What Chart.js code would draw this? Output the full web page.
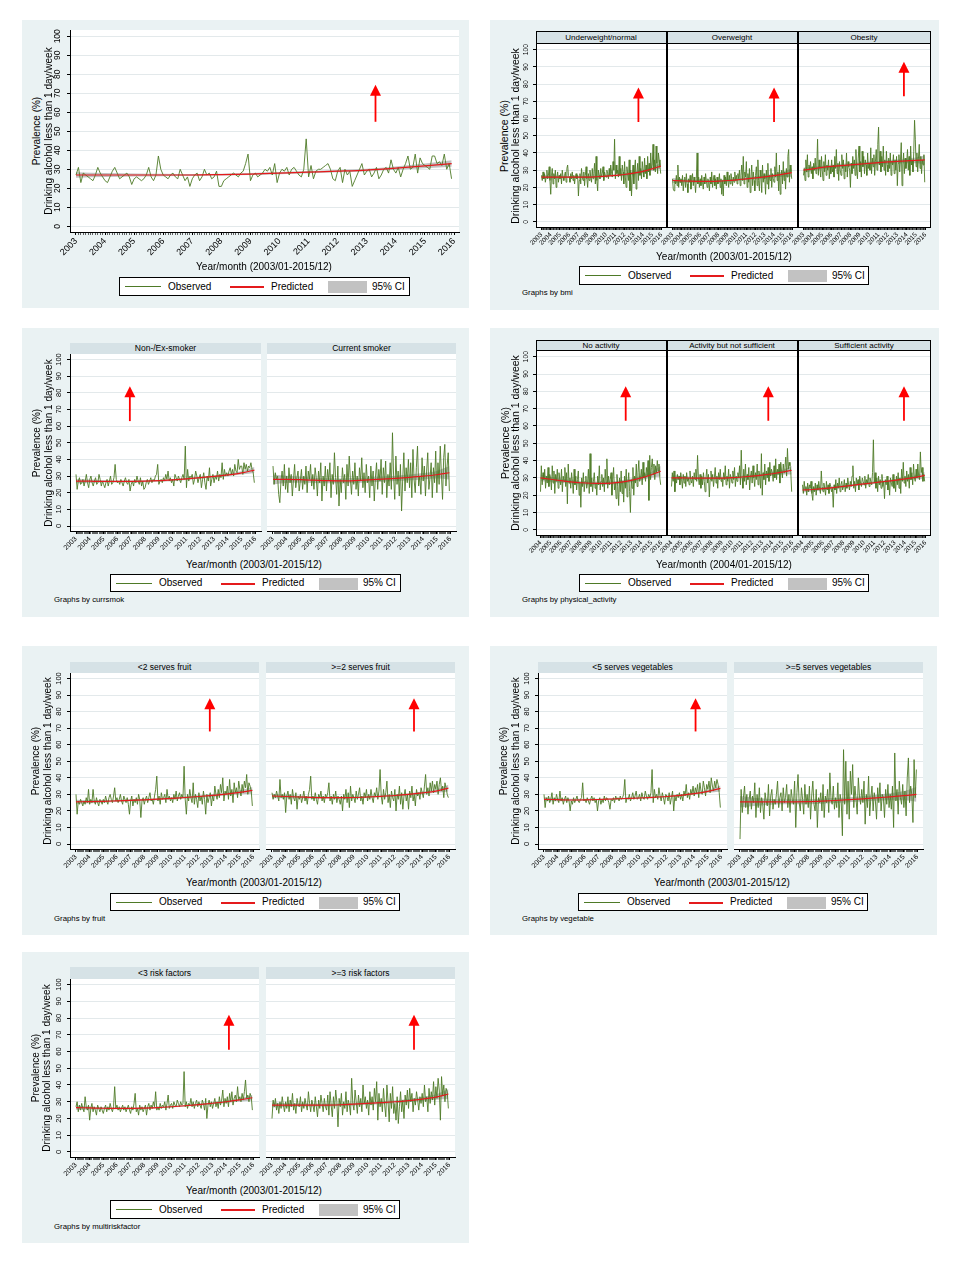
<!DOCTYPE html>
<html>
<head>
<meta charset="utf-8">
<title>Drinking alcohol less than 1 day/week</title>
<script src="https://cdn.jsdelivr.net/npm/chart.js@4.4.1/dist/chart.umd.min.js"></script>
<style>
  html, body { margin: 0; padding: 0; background: #fff; }
  #page { position: relative; width: 963px; height: 1271px; overflow: hidden;
          font-family: "Liberation Sans", Arial, sans-serif; color: #000; }
  .bg { position: absolute; background: #eaf2f3; }
  .cv { position: absolute; z-index: 1; }
  .txt { position: absolute; white-space: nowrap; line-height: 1; z-index: 2; }
  .strip { position: absolute; background: #d6e2e6; text-align: center; white-space: nowrap; z-index: 3; }
  .frame { position: absolute; border: 1px solid #000; box-sizing: border-box; z-index: 4; pointer-events: none; }
  .legend { position: absolute; background: #fff; border: 1px solid #000; box-sizing: border-box; z-index: 3; }
</style>
</head>
<body>
<div id="page"></div>
<script>
// ---- axis ticks ----
const yTicks = [0, 10, 20, 30, 40, 50, 60, 70, 80, 90, 100];
const years2003 = [2003, 2004, 2005, 2006, 2007, 2008, 2009, 2010, 2011, 2012, 2013, 2014, 2015, 2016];
const years2004 = [2004, 2005, 2006, 2007, 2008, 2009, 2010, 2011, 2012, 2013, 2014, 2015, 2016];
// x positions of the predicted / CI values (start of each year, last month)
const knots2003 = [2003, 2004, 2005, 2006, 2007, 2008, 2009, 2010, 2011, 2012, 2013, 2014, 2015, 2015.92];
const knots2004 = [2004, 2005, 2006, 2007, 2008, 2009, 2010, 2011, 2012, 2013, 2014, 2015, 2015.92];

// ---- all adults, monthly 2003/01-2015/12 ----
const obsAll = [
  27,31,23,28,27,26,25,24,27,31,28,26,
  24,23,26,29,31,28,25,26,27,28,26,22,
  25,26,25,24,25,27,31,26,24,27,37,30,
  27,26,25,27,28,26,25,30,27,24,26,21,
  25,27,28,24,26,30,27,28,25,26,29,21,
  21,24,25,26,27,28,27,26,28,29,33,38,
  24,27,28,26,27,28,30,29,31,27,33,23,
  28,30,29,31,27,30,31,29,27,26,30,46,
  26,32,25,29,30,30,31,32,33,30,25,24,
  29,31,23,30,27,29,21,24,27,30,33,27,
  29,30,26,28,31,25,27,30,31,28,35,30,
  28,31,26,30,33,37,30,31,38,28,36,33,
  32,31,30,37,37,33,34,32,38,30,33,25];
const predAll = [27,27,27,27,27,27.2,27.5,28,28.5,29,29.6,30.6,31.8,33];
const loAll   = [25.5,25.9,26.2,26.4,26.5,26.7,27,27.4,27.9,28.4,28.9,29.7,30.6,31.3];
const hiAll   = [28.5,28.1,27.8,27.6,27.5,27.7,28,28.6,29.1,29.6,30.3,31.5,33,34.7];
const arrowAll = [2013.3, 55, 74.5];

// ---- by bmi ----
const obsBmiNormal = [
  27,24,29,25,28,23,26,30,25,27,32,24,
  16,27,31,22,28,25,30,20,26,29,23,27,
  25,28,22,30,26,24,27,29,23,31,33,27,
  26,23,28,25,29,24,27,22,26,28,25,27,
  15,24,28,22,31,26,24,29,21,27,32,25,
  20,28,24,30,26,23,31,25,28,34,22,38,
  24,18,30,27,25,31,26,28,32,24,29,27,
  26,30,28,25,31,27,33,29,26,35,30,48,
  25,33,28,30,26,38,27,31,24,33,29,22,
  35,26,20,32,28,24,36,18,30,15,26,33,
  22,30,36,19,28,34,24,38,27,31,25,35,
  30,26,37,28,33,25,38,29,34,27,40,31,
  33,45,30,36,29,44,34,28,40,36,32,28];
const predBmiNormal = [26,26,26,26,26,26,26.2,26.5,27,27.5,28.3,29.3,30.8,32.4];
const loBmiNormal   = [24.8,25.1,25.3,25.4,25.4,25.4,25.6,25.9,26.3,26.8,27.5,28.4,29.6,30.8];
const hiBmiNormal   = [27.2,26.9,26.7,26.6,26.6,26.6,26.8,27.1,27.7,28.2,29.1,30.2,32,34];
const arrowBmiNormal = [2013.5, 58, 78];

const obsBmiOver = [
  25,19,18,24,22,27,21,33,20,26,23,25,
  21,27,18,24,26,20,28,22,17,25,23,27,
  19,24,28,21,26,23,17,25,40,22,26,20,
  25,21,27,23,19,26,22,28,24,20,25,23,
  18,26,22,29,20,24,27,21,25,19,26,22,
  23,28,20,25,16,24,15,27,22,26,21,29,
  24,20,27,22,28,25,21,26,23,29,24,27,
  22,28,25,30,21,27,33,24,38,22,29,26,
  35,20,28,23,31,17,26,33,21,29,24,18,
  27,32,21,36,24,18,30,26,17,33,23,28,
  25,16,30,22,34,19,27,24,31,20,28,25,
  23,32,26,40,24,29,18,33,16,27,30,22,
  35,24,29,19,31,26,38,42,23,33,29,25];
const predBmiOver = [24,23.8,23.6,23.5,23.5,23.6,24,24.4,25,25.5,26.1,26.8,27.7,28.6];
const loBmiOver   = [22.5,22.7,22.8,22.8,22.8,22.9,23.3,23.7,24.3,24.7,25.2,25.7,26.2,26.1];
const hiBmiOver   = [25.5,24.9,24.4,24.2,24.2,24.3,24.7,25.1,25.7,26.3,27,27.9,29.2,31.1];
const arrowBmiOver = [2014.0, 58, 78];

const obsBmiObese = [
  27,31,24,36,29,39,26,33,30,35,28,32,
  25,34,30,37,28,33,48,27,36,31,26,38,
  30,24,35,29,39,27,33,30,36,25,32,28,
  36,29,33,26,38,31,42,28,34,24,35,30,
  27,39,31,36,25,33,29,40,26,35,32,30,
  20,34,28,38,31,36,27,42,30,25,37,44,
  29,35,26,41,32,38,28,36,33,27,40,31,
  34,30,43,28,37,32,39,27,35,42,30,45,
  55,33,41,29,38,32,44,30,36,27,41,33,
  29,37,31,40,27,35,33,39,28,36,30,38,
  21,34,39,29,36,46,21,33,40,28,37,31,
  35,42,30,38,27,44,33,36,29,41,59,48,
  32,40,29,37,45,31,38,28,36,33,39,23];
const predBmiObese = [30,30.8,31.6,32.2,32.7,33.1,33.5,34,34.4,34.8,35.1,35.4,35.7,36];
const loBmiObese   = [28.5,29.6,30.6,31.3,31.8,32.2,32.6,33.1,33.5,33.8,34,34.1,34.1,33.5];
const hiBmiObese   = [31.5,32,32.6,33.1,33.6,34,34.4,34.9,35.3,35.8,36.2,36.7,37.3,38.5];
const arrowBmiObese = [2013.7, 73, 93];

// ---- by current smoking ----
const obsNonSmoker = [
  31,22,27,29,25,26,28,24,27,31,26,23,
  28,30,26,24,27,29,25,26,31,28,24,27,
  25,23,26,28,24,27,30,25,26,29,37,28,
  26,27,25,28,26,24,27,29,26,25,28,21,
  25,27,24,28,26,30,27,25,29,24,27,22,
  23,26,28,25,27,29,26,28,27,30,31,37,
  25,27,28,26,29,27,31,28,33,27,29,26,
  28,24,31,29,27,30,28,26,29,31,28,48,
  23,34,27,30,29,31,25,28,33,30,26,29,
  31,23,28,32,26,22,30,27,35,24,28,31,
  26,30,28,33,27,31,29,38,28,34,30,32,
  30,33,35,31,34,30,37,33,32,40,34,36,
  36,31,38,34,37,33,36,35,38,34,32,26];
const predNonSmoker = [27,26.9,26.8,26.8,26.8,26.9,27.2,27.7,28.3,29,29.8,30.7,31.9,33.6];
const loNonSmoker   = [25.7,25.9,26.1,26.2,26.2,26.3,26.6,27.1,27.7,28.4,29.1,29.9,30.9,31.8];
const hiNonSmoker   = [28.3,27.9,27.5,27.4,27.4,27.5,27.8,28.3,28.9,29.6,30.5,31.5,32.9,35.4];
const arrowNonSmoker = [2006.9, 63, 84];

const obsSmoker = [
  36,25,32,28,30,19,14,27,33,24,37,22,
  30,20,35,26,31,18,28,37,23,29,33,21,
  27,34,22,30,25,36,20,33,28,37,24,31,
  22,35,29,18,33,26,38,15,30,24,36,21,
  34,27,38,17,31,25,44,29,19,36,12,28,
  20,35,26,31,16,37,24,42,28,19,33,25,
  38,22,30,18,35,27,41,23,32,20,37,26,
  30,17,36,24,33,15,29,38,22,34,27,40,
  19,35,26,39,17,31,24,38,22,56,30,16,
  42,25,33,18,37,9,28,44,21,35,26,40,
  23,38,17,46,28,20,35,48,24,30,19,41,
  27,36,18,33,44,22,29,38,17,35,26,45,
  20,38,25,48,31,16,41,49,24,36,44,21];
const predSmoker = [28,28,27.8,27.5,27.2,27.1,27.3,27.7,28.1,28.6,29.2,29.9,30.8,32];
const loSmoker   = [25,25.8,26,25.9,25.7,25.6,25.8,26.2,26.6,27,27.5,28,28.5,28];
const hiSmoker   = [31,30.2,29.6,29.1,28.7,28.6,28.8,29.2,29.6,30.2,30.9,31.8,33.1,36];

// ---- by physical activity, monthly 2004/01-2015/12 ----
const obsNoAct = [
  22,37,26,33,29,35,24,31,27,36,25,32,
  30,23,37,27,34,21,32,28,35,24,33,29,
  26,35,22,31,28,36,25,33,15,38,27,30,
  24,33,28,21,35,26,31,23,29,34,20,27,
  13,30,25,33,22,28,31,24,27,35,21,44,
  25,30,22,28,33,24,27,20,31,26,37,23,
  28,32,25,30,22,35,27,41,24,31,26,29,
  33,20,29,36,23,27,18,32,25,14,30,22,
  34,21,28,16,31,24,35,19,27,33,22,10,
  29,24,36,20,31,27,38,25,33,40,28,30,
  35,26,39,30,33,28,36,31,40,17,43,29,
  36,41,32,38,29,37,33,40,34,38,30,26];
const predNoAct = [30,29.2,28.4,27.7,27.2,26.9,26.8,27,27.6,28.6,30,31.8,33.8];
const loNoAct   = [28,27.7,27.2,26.7,26.3,26,25.9,26.1,26.6,27.5,28.7,30.2,30.8];
const hiNoAct   = [32,30.7,29.6,28.7,28.1,27.8,27.7,27.9,28.6,29.7,31.3,33.4,36.8];
const arrowNoAct = [2012.45, 63, 83];

const obsLowAct = [
  25,33,28,34,22,30,27,32,29,31,26,33,
  29,24,32,27,31,25,33,28,30,26,34,29,
  27,31,25,33,29,35,28,43,30,26,32,24,
  31,26,33,28,22,30,35,27,32,19,29,34,
  28,32,25,30,36,27,31,24,33,29,35,28,
  30,25,33,29,37,26,31,28,35,24,32,30,
  27,34,29,36,25,31,28,33,30,37,26,46,
  30,24,35,28,38,26,32,29,36,23,31,34,
  27,37,30,25,33,29,38,26,34,31,24,44,
  20,33,29,38,26,34,30,36,28,39,31,35,
  33,28,37,30,41,29,35,32,38,27,39,34,
  30,38,33,36,42,31,47,35,39,37,33,22];
const predLowAct = [30,30,29.9,29.8,29.8,29.9,30.1,30.5,31,31.6,32.4,33.3,34.4];
const loLowAct   = [28.5,28.9,29.1,29.1,29.1,29.2,29.4,29.8,30.3,30.8,31.4,32,31.9];
const hiLowAct   = [31.5,31.1,30.7,30.5,30.5,30.6,30.8,31.2,31.7,32.4,33.4,34.6,36.9];
const arrowLowAct = [2013.6, 63, 83];

const obsSufAct = [
  26,21,28,23,25,20,27,22,26,24,28,21,
  17,25,22,27,20,26,23,28,24,21,34,25,
  22,27,24,20,28,23,26,21,27,25,22,24,
  13,26,23,29,21,27,24,30,22,26,28,23,
  25,29,22,27,24,30,26,23,28,25,31,37,
  24,28,22,30,26,29,23,31,27,25,30,28,
  26,31,24,29,27,32,25,30,28,26,33,52,
  27,33,24,30,22,31,26,29,24,32,25,28,
  18,29,26,31,23,28,20,30,27,25,32,24,
  29,22,31,26,33,24,30,21,35,28,39,27,
  31,25,34,28,32,24,36,29,33,26,38,30,
  28,35,30,38,31,29,45,33,36,28,32,28];
const predSufAct = [23,23.3,23.8,24.4,25.1,25.8,26.5,27.2,27.9,28.6,29.4,30.3,31.4];
const loSufAct   = [21.5,22.1,22.8,23.6,24.4,25.1,25.8,26.5,27.2,27.8,28.5,29.2,29.4];
const hiSufAct   = [24.5,24.5,24.8,25.2,25.8,26.5,27.2,27.9,28.6,29.4,30.3,31.4,33.4];
const arrowSufAct = [2013.9, 63, 83];

// ---- by fruit ----
const obsFruitLow = [
  30,18,26,24,27,25,23,26,24,28,25,33,
  24,27,25,33,26,24,28,25,23,27,26,24,
  27,25,29,26,24,28,30,27,25,29,34,26,
  28,25,27,30,26,24,29,27,25,28,24,18,
  26,29,23,27,25,28,24,30,27,16,26,28,
  24,27,29,25,28,31,26,27,24,29,33,41,
  26,29,24,31,27,28,30,25,33,27,29,26,
  28,25,30,27,32,26,29,31,27,30,28,47,
  27,18,30,26,33,28,25,37,24,30,27,22,
  31,26,29,24,32,27,18,30,25,28,31,23,
  29,26,35,30,27,33,28,36,31,40,26,32,
  30,35,27,39,29,33,25,37,31,34,28,38,
  33,29,36,31,38,34,42,30,37,35,32,23];
const predFruitLow = [25.5,25.6,25.8,26.1,26.4,26.7,27.1,27.6,28.1,28.7,29.4,30.2,31.2,32.4];
const loFruitLow   = [24.2,24.6,25,25.4,25.8,26.1,26.5,27,27.5,28,28.6,29.3,30,30.4];
const hiFruitLow   = [26.8,26.6,26.6,26.8,27,27.3,27.7,28.2,28.7,29.4,30.2,31.1,32.4,34.4];
const arrowFruitLow = [2012.8, 68, 88];

const obsFruitHigh = [
  31,27,30,28,32,29,26,39,28,30,27,31,
  19,29,32,27,30,24,33,28,26,31,21,29,
  27,30,25,28,32,26,29,24,30,33,41,27,
  29,26,31,27,24,30,28,32,26,29,25,30,
  28,31,37,26,29,24,30,27,32,25,29,27,
  24,29,20,30,27,33,25,31,22,35,26,30,
  28,25,32,27,30,34,26,29,24,31,28,33,
  26,30,27,33,28,25,31,29,34,27,32,45,
  29,24,33,27,31,38,25,30,22,32,28,26,
  33,20,30,27,35,24,31,21,29,33,26,30,
  21,32,28,35,26,30,23,33,29,31,27,34,
  31,28,35,42,30,34,29,37,32,38,31,36,
  33,38,30,36,40,32,35,28,37,34,30,28];
const predFruitHigh = [29,28.7,28.4,28.1,28,28,28.1,28.4,28.8,29.3,30,30.9,32,33.8];
const loFruitHigh   = [27.7,27.7,27.6,27.4,27.4,27.4,27.5,27.8,28.2,28.7,29.3,30.1,31,31.8];
const hiFruitHigh   = [30.3,29.7,29.2,28.8,28.6,28.6,28.7,29,29.4,29.9,30.7,31.7,33,35.8];
const arrowFruitHigh = [2013.4, 68, 88];

// ---- by vegetables ----
const obsVegLow = [
  30,22,28,26,29,25,27,31,24,28,26,30,
  27,25,32,26,28,24,27,29,25,28,26,20,
  26,24,28,25,27,29,26,25,27,28,37,26,
  27,25,28,26,24,27,29,26,28,25,27,20,
  26,28,24,27,25,29,26,28,27,25,21,27,
  26,28,25,29,27,28,26,29,27,28,30,39,
  25,28,27,30,26,28,31,27,29,32,27,28,
  30,26,31,28,27,32,29,27,30,28,31,45,
  25,33,28,30,27,34,29,26,31,28,24,30,
  29,26,31,24,28,32,20,29,26,30,28,31,
  27,30,26,32,29,36,28,31,27,33,30,35,
  29,34,31,36,28,37,32,30,38,34,29,36,
  33,38,31,40,35,32,38,34,39,36,31,22];
const predVegLow = [27,26.8,26.6,26.7,26.9,27.2,27.5,27.8,28.2,28.7,29.4,30.4,31.8,33.6];
const loVegLow   = [25.8,25.9,25.9,26.1,26.4,26.7,27,27.3,27.7,28.2,28.8,29.7,30.9,31.8];
const hiVegLow   = [28.2,27.7,27.3,27.3,27.4,27.7,28,28.3,28.7,29.2,30,31.1,32.7,35.4];
const arrowVegLow = [2014.1, 68, 88];

const obsVegHigh = [
  3,33,19,28,35,22,30,18,27,32,21,29,
  25,37,16,30,22,34,19,28,24,15,31,26,
  23,36,17,29,33,21,27,24,30,38,22,28,
  31,20,34,25,28,36,22,30,19,33,27,24,
  38,10,31,42,25,20,34,27,18,36,24,30,
  22,35,15,29,38,24,20,33,10,28,25,31,
  20,36,16,29,25,33,19,43,27,24,35,21,
  28,22,37,16,30,25,5,57,24,50,18,38,
  15,44,30,48,22,35,27,18,40,29,24,33,
  25,38,12,30,22,41,17,28,35,20,31,26,
  15,34,25,37,20,30,28,16,33,24,36,22,
  30,21,35,10,55,26,33,18,38,28,24,36,
  22,32,17,40,52,25,35,30,13,51,28,45];
const predVegHigh = [25.5,25.5,25.5,25.5,25.5,25.6,25.9,26.3,26.8,27.3,27.9,28.5,29.2,30];
const loVegHigh   = [22,23,23.6,24,24,24.1,24.4,24.8,25.3,25.7,26.1,26.4,26.4,25.5];
const hiVegHigh   = [29,28,27.4,27,27,27.1,27.4,27.8,28.3,28.9,29.7,30.6,32,34.5];

// ---- by number of risk factors ----
const obsRiskLow = [
  27,30,24,28,25,29,26,24,33,27,25,28,
  19,26,29,24,27,25,22,28,26,24,27,25,
  23,26,28,24,27,25,29,26,24,27,39,26,
  28,25,27,24,26,28,25,27,24,26,28,25,
  23,27,25,29,35,24,26,22,28,25,27,24,
  26,28,22,27,29,25,28,26,30,27,36,25,
  27,25,29,26,28,27,30,25,29,34,26,28,
  29,26,30,28,27,31,29,27,30,28,29,48,
  27,30,26,29,28,32,27,30,26,29,31,27,
  30,28,26,31,29,25,32,20,28,31,27,30,
  26,29,32,27,30,26,33,28,31,37,27,32,
  29,33,27,35,30,36,28,32,34,30,39,31,
  33,30,35,31,36,43,32,34,30,35,33,25];
const predRiskLow = [26.5,26.3,26.1,26,26,26.2,26.5,27,27.6,28.3,29.1,30,31.1,32.4];
const loRiskLow   = [25.2,25.4,25.5,25.5,25.5,25.7,26,26.5,27.1,27.7,28.5,29.3,30.2,30.8];
const hiRiskLow   = [27.8,27.2,26.7,26.5,26.5,26.7,27,27.5,28.1,28.9,29.7,30.7,32,34];
const arrowRiskLow = [2014.2, 61, 82];

const obsRiskHigh = [
  20,31,27,32,25,29,23,30,26,33,28,24,
  30,26,33,24,31,27,35,25,29,23,32,28,
  27,33,24,30,26,32,28,25,36,29,24,31,
  28,24,33,27,21,31,26,34,29,24,32,27,
  25,34,22,36,28,21,33,26,37,30,15,32,
  27,35,22,30,26,36,24,31,28,22,44,29,
  25,37,30,23,34,27,32,24,40,29,33,26,
  31,22,36,28,33,25,38,30,42,19,35,27,
  32,24,38,28,21,40,30,18,35,26,39,23,
  29,19,33,17,27,36,24,31,20,34,28,37,
  26,38,30,35,24,32,28,36,31,25,33,29,
  35,27,40,30,33,24,38,29,36,31,42,28,
  39,32,44,37,19,45,34,40,30,38,36,26];
const predRiskHigh = [28,28,28,28,28,28.2,28.6,29,29.5,30,30.7,31.6,32.8,34.6];
const loRiskHigh   = [26.5,26.9,27.1,27.2,27.2,27.4,27.8,28.2,28.7,29.1,29.7,30.4,31.2,31.6];
const hiRiskHigh   = [29.5,29.1,28.9,28.8,28.8,29,29.4,29.8,30.3,30.9,31.7,32.8,34.4,37.6];
const arrowRiskHigh = [2013.4, 61, 82];

// ---- styles ----
const FONT = '"Liberation Sans", Arial, sans-serif';
Chart.defaults.font.family = FONT;
const GREEN = '#4e7a27';
const RED = '#e41a1c';
const CI = 'rgba(160,160,160,0.65)';
const GRID = '#e3e9eb';
const LEFT = 26, RIGHT = 8, TOPPAD = 8;

// layout of the seven graphs (page pixels)
const panels = [
  { bg: [22, 20, 447, 288], top: 30, bottom: 232, stripTop: null, framed: false,
    years: years2003, knots: knots2003, padL: 6, padR: 5, xFont: 9, yFont: 8.5, yPad: 2.2, xAxisH: 30,
    yTitle: [37, 49], yTitleFont: 10, xTitle: [264, 267], legend: [119, 277, 291, 19], by: null,
    subs: [{ l: 70, r: 459, label: null, obs: obsAll, pred: predAll, lo: loAll, hi: hiAll, arrow: arrowAll }] },
  { bg: [490, 20, 449, 290], top: 44, bottom: 227, stripTop: 31, framed: true,
    years: years2003, knots: knots2003, padL: 5.5, padR: 4.5, xFont: 6.5, yFont: 6.8, yPad: 1.2, xAxisH: 24,
    yTitle: [504, 515], yTitleFont: 10.5, xTitle: [724, 257], legend: [579, 266, 290, 19], by: [522, 293, 'Graphs by bmi'],
    subs: [
      { l: 536, r: 666, label: 'Underweight/normal', obs: obsBmiNormal, pred: predBmiNormal, lo: loBmiNormal, hi: hiBmiNormal, arrow: arrowBmiNormal },
      { l: 667, r: 797, label: 'Overweight', obs: obsBmiOver, pred: predBmiOver, lo: loBmiOver, hi: hiBmiOver, arrow: arrowBmiOver },
      { l: 798, r: 930, label: 'Obesity', obs: obsBmiObese, pred: predBmiObese, lo: loBmiObese, hi: hiBmiObese, arrow: arrowBmiObese }] },
  { bg: [22, 328, 447, 289], top: 354, bottom: 531, stripTop: 343, framed: false,
    years: years2003, knots: knots2003, padL: 6, padR: 5.5, xFont: 7, yFont: 7.5, yPad: 2.2, xAxisH: 24,
    yTitle: [37, 49], yTitleFont: 10, xTitle: [254, 565], legend: [110, 574, 291, 18], by: [54, 600, 'Graphs by currsmok'],
    subs: [
      { l: 70, r: 261, label: 'Non-/Ex-smoker', obs: obsNonSmoker, pred: predNonSmoker, lo: loNonSmoker, hi: hiNonSmoker, arrow: arrowNonSmoker },
      { l: 267, r: 456, label: 'Current smoker', obs: obsSmoker, pred: predSmoker, lo: loSmoker, hi: hiSmoker, arrow: null }] },
  { bg: [490, 328, 449, 289], top: 351, bottom: 535, stripTop: 340, framed: true,
    years: years2004, knots: knots2004, padL: 4.5, padR: 4.5, xFont: 6.5, yFont: 6.8, yPad: 1.2, xAxisH: 24,
    yTitle: [505, 515], yTitleFont: 10.5, xTitle: [724, 565], legend: [579, 574, 290, 18], by: [522, 600, 'Graphs by physical_activity'],
    subs: [
      { l: 536, r: 666, label: 'No activity', obs: obsNoAct, pred: predNoAct, lo: loNoAct, hi: hiNoAct, arrow: arrowNoAct },
      { l: 667, r: 797, label: 'Activity but not sufficient', obs: obsLowAct, pred: predLowAct, lo: loLowAct, hi: hiLowAct, arrow: arrowLowAct },
      { l: 798, r: 930, label: 'Sufficient activity', obs: obsSufAct, pred: predSufAct, lo: loSufAct, hi: hiSufAct, arrow: arrowSufAct }] },
  { bg: [22, 646, 447, 289], top: 673, bottom: 849, stripTop: 662, framed: false,
    years: years2003, knots: knots2003, padL: 6, padR: 5.5, xFont: 7, yFont: 7.5, yPad: 2.2, xAxisH: 24,
    yTitle: [36, 48], yTitleFont: 10, xTitle: [254, 883], legend: [110, 893, 290, 18], by: [54, 919, 'Graphs by fruit'],
    subs: [
      { l: 70, r: 259, label: '<2 serves fruit', obs: obsFruitLow, pred: predFruitLow, lo: loFruitLow, hi: hiFruitLow, arrow: arrowFruitLow },
      { l: 266, r: 455, label: '>=2 serves fruit', obs: obsFruitHigh, pred: predFruitHigh, lo: loFruitHigh, hi: hiFruitHigh, arrow: arrowFruitHigh }] },
  { bg: [490, 646, 447, 289], top: 673, bottom: 849, stripTop: 662, framed: false,
    years: years2003, knots: knots2003, padL: 6, padR: 5.5, xFont: 7, yFont: 7.5, yPad: 2.2, xAxisH: 24,
    yTitle: [504, 516], yTitleFont: 10, xTitle: [722, 883], legend: [578, 893, 290, 18], by: [522, 919, 'Graphs by vegetable'],
    subs: [
      { l: 538, r: 727, label: '<5 serves vegetables', obs: obsVegLow, pred: predVegLow, lo: loVegLow, hi: hiVegLow, arrow: arrowVegLow },
      { l: 734, r: 923, label: '>=5 serves vegetables', obs: obsVegHigh, pred: predVegHigh, lo: loVegHigh, hi: hiVegHigh, arrow: null }] },
  { bg: [22, 952, 447, 291], top: 979, bottom: 1157, stripTop: 967, framed: false,
    years: years2003, knots: knots2003, padL: 6, padR: 5.5, xFont: 7, yFont: 7.5, yPad: 2.2, xAxisH: 24,
    yTitle: [36, 47], yTitleFont: 10, xTitle: [254, 1191], legend: [110, 1200, 290, 19], by: [54, 1227, 'Graphs by multiriskfactor'],
    subs: [
      { l: 70, r: 259, label: '<3 risk factors', obs: obsRiskLow, pred: predRiskLow, lo: loRiskLow, hi: hiRiskLow, arrow: arrowRiskLow },
      { l: 266, r: 455, label: '>=3 risk factors', obs: obsRiskHigh, pred: predRiskHigh, lo: loRiskHigh, hi: hiRiskHigh, arrow: arrowRiskHigh }] }
];

const page = document.getElementById('page');

function el(cls, css, text) {
  const d = document.createElement('div');
  d.className = cls;
  Object.assign(d.style, css);
  if (text != null) d.textContent = text;
  page.appendChild(d);
  return d;
}

function monthTicks(years) {
  const t = [];
  for (let k = 0; k < years.length; k++) {
    t.push({ value: years[k], yr: years[k] });
    if (k < years.length - 1) {
      for (let m = 1; m < 12; m++) t.push({ value: years[k] + m / 12 });
    }
  }
  return t;
}

function decorPlugin(arrow) {
  return {
    id: 'decor',
    beforeDraw(chart) {
      const a = chart.chartArea, c = chart.ctx;
      c.save();
      c.fillStyle = '#fff';
      c.fillRect(a.left, a.top, a.right - a.left, a.bottom - a.top);
      c.restore();
    },
    afterDatasetsDraw(chart) {
      if (!arrow) return;
      const x = chart.scales.x.getPixelForValue(arrow[0]);
      const y0 = chart.scales.y.getPixelForValue(arrow[1]);
      const y1 = chart.scales.y.getPixelForValue(arrow[2]);
      const c = chart.ctx;
      c.save();
      c.strokeStyle = '#ff0000';
      c.fillStyle = '#ff0000';
      c.lineWidth = 1.8;
      c.beginPath(); c.moveTo(x, y0); c.lineTo(x, y1 + 8); c.stroke();
      c.beginPath();
      c.moveTo(x, y1); c.lineTo(x - 5.5, y1 + 11); c.lineTo(x + 5.5, y1 + 11);
      c.closePath(); c.fill();
      c.restore();
    }
  };
}

function drawSub(p, s, idx) {
  const first = idx === 0;
  const plotW = s.r - s.l;
  const w = plotW + LEFT + RIGHT;
  const h = (p.bottom - p.top) + TOPPAD + p.xAxisH;
  const cv = document.createElement('canvas');
  cv.className = 'cv';
  cv.width = w; cv.height = h;
  Object.assign(cv.style, { left: (s.l - LEFT) + 'px', top: (p.top - TOPPAD) + 'px', width: w + 'px', height: h + 'px' });
  page.appendChild(cv);

  const y0 = p.years[0], y1 = p.years[p.years.length - 1];
  const pxYr = (plotW - p.padL - p.padR) / (y1 - y0);
  const xMin = y0 - p.padL / pxYr, xMax = y1 + p.padR / pxYr;

  const obsPts = s.obs.map((v, i) => ({ x: y0 + i / 12, y: v }));
  const predPts = p.knots.map((k, i) => ({ x: k, y: s.pred[i] }));
  const loPts = p.knots.map((k, i) => ({ x: k, y: s.lo[i] }));
  const hiPts = p.knots.map((k, i) => ({ x: k, y: s.hi[i] }));

  new Chart(cv, {
    type: 'scatter',
    data: {
      datasets: [
        { label: '95% CI', data: hiPts, showLine: true, fill: '+1', backgroundColor: CI, borderWidth: 0,
          pointRadius: 0, cubicInterpolationMode: 'monotone', order: 3 },
        { label: 'CI low', data: loPts, showLine: true, fill: false, borderWidth: 0,
          pointRadius: 0, cubicInterpolationMode: 'monotone', order: 2 },
        { label: 'Observed', data: obsPts, showLine: true, borderColor: GREEN, borderWidth: 0.9,
          pointRadius: 0, order: 1 },
        { label: 'Predicted', data: predPts, showLine: true, borderColor: RED, borderWidth: 1.2,
          pointRadius: 0, cubicInterpolationMode: 'monotone', order: 0 }
      ]
    },
    options: {
      responsive: false,
      animation: false,
      events: [],
      layout: { padding: { left: first ? 0 : LEFT, right: RIGHT, top: TOPPAD, bottom: 0 } },
      plugins: { legend: { display: false }, tooltip: { enabled: false } },
      scales: {
        x: {
          type: 'linear', min: xMin, max: xMax,
          afterBuildTicks: sc => { sc.ticks = monthTicks(p.years); },
          afterFit: sc => { sc.height = p.xAxisH; },
          ticks: { autoSkip: false, minRotation: 45, maxRotation: 45, padding: 1, color: '#000',
                   font: { size: p.xFont, family: FONT },
                   callback: (v, i, t) => (t[i] && t[i].yr) ? String(t[i].yr) : '' },
          grid: { drawOnChartArea: false, tickLength: 3, tickColor: '#000',
                  tickWidth: ctx => (ctx.tick && ctx.tick.yr) ? 1 : 0.6 },
          border: { display: !p.framed, color: '#000', width: 1 }
        },
        y: {
          type: 'linear', min: -3, max: 103.3,
          afterBuildTicks: sc => { sc.ticks = yTicks.map(v => ({ value: v })); },
          afterFit: sc => { sc.width = first ? LEFT : 0; },
          ticks: { display: first, minRotation: 90, crossAlign: 'center', padding: p.yPad, color: '#000',
                   font: { size: p.yFont, family: FONT } },
          grid: { color: GRID, lineWidth: 1, drawTicks: first, tickLength: 3, tickColor: '#000' },
          border: { display: first && !p.framed, color: '#000', width: 1 }
        }
      }
    },
    plugins: [decorPlugin(s.arrow)]
  });

  if (s.label) {
    el('strip', { left: s.l + 'px', top: p.stripTop + 'px', width: plotW + 'px', height: (p.top - p.stripTop) + 'px',
                  lineHeight: (p.top - p.stripTop) + 'px', fontSize: p.framed ? '8px' : '8.5px',
                  borderBottom: p.framed ? '1px solid #000' : 'none', boxSizing: 'border-box' }, s.label);
  }
  if (p.framed) {
    el('frame', { left: s.l + 'px', top: p.stripTop + 'px', width: (plotW + 1) + 'px', height: (p.bottom - p.stripTop + 1) + 'px' });
  }
}

function drawLegend(p) {
  const [x, y, w, h] = p.legend;
  const box = el('legend', { left: x + 'px', top: y + 'px', width: w + 'px', height: h + 'px' });
  const mid = Math.floor((h - 2) / 2);
  const add = (css, text) => {
    const d = document.createElement('div');
    d.style.position = 'absolute';
    Object.assign(d.style, css);
    if (text != null) d.textContent = text;
    box.appendChild(d);
  };
  const txt = { top: '0px', lineHeight: (h - 2) + 'px', fontSize: '10px', whiteSpace: 'nowrap' };
  add({ left: '5px', width: '36px', top: mid + 'px', height: '1px', background: GREEN });
  add(Object.assign({ left: '48px' }, txt), 'Observed');
  add({ left: '110px', width: '34px', top: mid + 'px', height: '2px', background: RED });
  add(Object.assign({ left: '151px' }, txt), 'Predicted');
  add({ left: '208px', width: '39px', top: (mid - 5) + 'px', height: '12px', background: '#c2c2c2' });
  add(Object.assign({ left: '252px' }, txt), '95% CI');
}

panels.forEach(p => {
  const [bx, by, bw, bh] = p.bg;
  el('bg', { left: bx + 'px', top: by + 'px', width: bw + 'px', height: bh + 'px' });
  p.subs.forEach((s, i) => drawSub(p, s, i));

  const cy = (p.top + p.bottom) / 2;
  const rot = { transform: 'translate(-50%,-50%) rotate(-90deg)', fontSize: p.yTitleFont + 'px' };
  el('txt', Object.assign({ left: p.yTitle[0] + 'px', top: cy + 'px' }, rot), 'Prevalence (%)');
  el('txt', Object.assign({ left: p.yTitle[1] + 'px', top: cy + 'px' }, rot), 'Drinking alcohol less than 1 day/week');
  el('txt', { left: p.xTitle[0] + 'px', top: p.xTitle[1] + 'px', transform: 'translate(-50%,-50%)', fontSize: '10px' },
     'Year/month (' + (p.years[0]) + '/01-2015/12)');
  drawLegend(p);
  if (p.by) {
    el('txt', { left: p.by[0] + 'px', top: (p.by[1] - 4) + 'px', fontSize: '7.8px' }, p.by[2]);
  }
});
</script>
</body>
</html>
